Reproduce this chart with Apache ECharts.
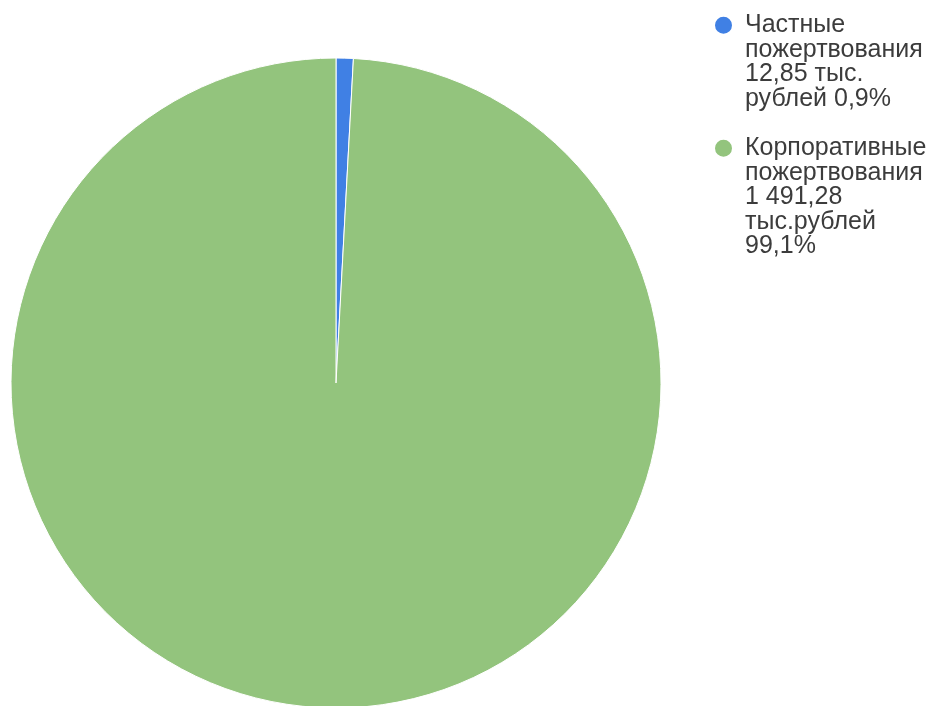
<!DOCTYPE html>
<html><head><meta charset="utf-8">
<script src="https://cdn.jsdelivr.net/npm/echarts@6/dist/echarts.min.js"></script>
<style>html,body{margin:0;padding:0;background:#fff}#c{width:934px;height:706px}</style>
</head><body><div id="c"></div>
<script>
const categories = ["Частные пожертвования", "Корпоративные пожертвования"];
const values = [12.85, 1491.28];
const legendLines = [
  ["Частные", "пожертвования", "12,85 тыс.", "рублей 0,9%"],
  ["Корпоративные", "пожертвования", "1 491,28", "тыс.рублей", "99,1%"]
];
const colors = ["#4080e4", "#93c47d"];

const LH = 24.5;
const chart = echarts.init(document.getElementById('c'));
chart.setOption({
  animation: false,
  color: colors,
  legend: {
    orient: 'vertical',
    left: 713,
    top: 25 - 3.5 * LH,
    padding: 0,
    icon: 'circle',
    itemWidth: 19,
    itemHeight: 19,
    itemGap: -3 * LH,
    align: 'left',
    selectedMode: false,
    data: categories,
    formatter: function (name) {
      const lines = legendLines[categories.indexOf(name)];
      // blank lines on top keep the marker level with the first text line
      const pad = new Array(lines.length - 1).fill('');
      return pad.concat(lines).join('\n');
    },
    textStyle: {
      fontFamily: 'Liberation Sans, Arial, sans-serif',
      fontSize: 25,
      lineHeight: LH,
      color: '#3c3c3c',
      padding: [0, 0, 0, 7]
    }
  },
  series: [{
    type: 'pie',
    center: [336, 383],
    radius: 325,
    startAngle: 90,
    clockwise: true,
    label: { show: false },
    labelLine: { show: false },
    itemStyle: { borderColor: '#fff', borderWidth: 1 },
    data: categories.map((c, i) => ({ name: c, value: values[i] }))
  }]
});
</script></body></html>
